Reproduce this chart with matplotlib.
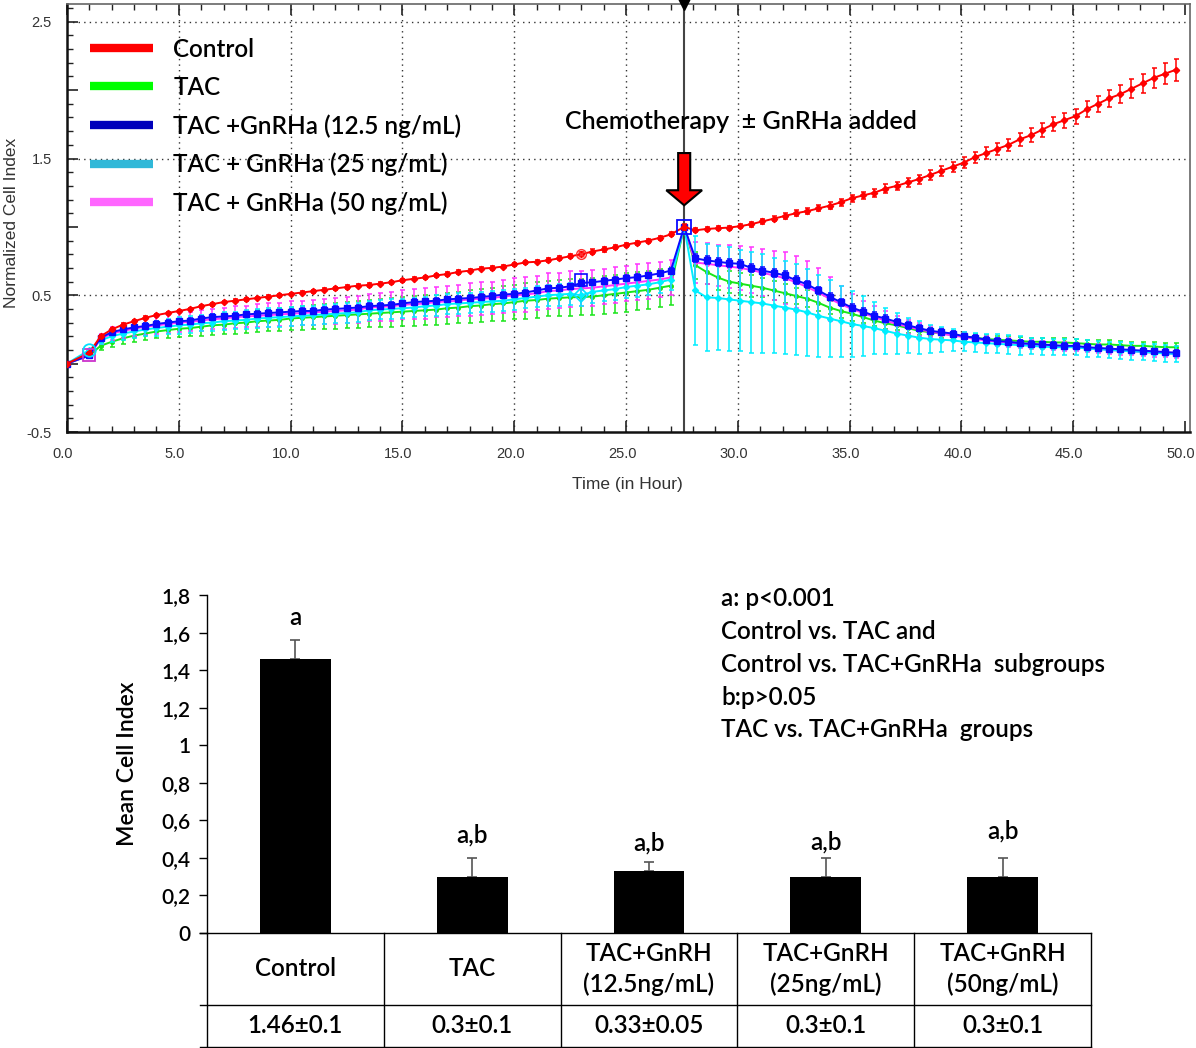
import matplotlib
matplotlib.use('Agg')
import matplotlib.pyplot as plt
import matplotlib.ticker as mticker
import matplotlib.transforms as mtransforms
from matplotlib.lines import Line2D
from matplotlib.patches import FancyArrow
import numpy as np

# ---- real-time cell analysis (top panel) ----
# sampling schedule in hours: start, first read, 30-min reads, treatment point, 30-min reads
hours = np.concatenate([[0.0, 1.0], np.arange(1.5, 27.01, 0.5), [27.6], np.arange(28.1, 49.61, 0.5)])
t_treat = 27.6

control = [0, 0.08,
           0.20, 0.25, 0.285, 0.31, 0.335, 0.355, 0.37, 0.385, 0.40, 0.42,
           0.435, 0.45, 0.46, 0.47, 0.48, 0.49, 0.50, 0.51, 0.52, 0.53,
           0.54, 0.55, 0.56, 0.57, 0.575, 0.585, 0.595, 0.61, 0.62, 0.63,
           0.645, 0.655, 0.67, 0.68, 0.695, 0.70, 0.71, 0.725, 0.74, 0.745,
           0.755, 0.77, 0.785, 0.80, 0.82, 0.835, 0.85, 0.87, 0.885, 0.90,
           0.92, 0.945,
           1.0,
           0.975, 0.985, 0.99, 0.995, 1.005, 1.02, 1.04, 1.06, 1.08, 1.10,
           1.115, 1.135, 1.155, 1.18, 1.21, 1.23, 1.25, 1.28, 1.30, 1.325,
           1.35, 1.38, 1.41, 1.44, 1.47, 1.51, 1.54, 1.57, 1.60, 1.64,
           1.67, 1.71, 1.75, 1.78, 1.81, 1.86, 1.90, 1.94, 1.97, 2.01,
           2.05, 2.09, 2.12, 2.15]
control_err = [0, 0.005,
               0.01, 0.01, 0.01, 0.01, 0.01, 0.01, 0.01, 0.01, 0.01, 0.01,
               0.01, 0.01, 0.01, 0.01, 0.01, 0.01, 0.01, 0.01, 0.01, 0.01,
               0.012, 0.012, 0.012, 0.012, 0.012, 0.012, 0.012, 0.012, 0.012, 0.012,
               0.012, 0.012, 0.012, 0.012, 0.012, 0.012, 0.012, 0.012, 0.012, 0.012,
               0.015, 0.015, 0.015, 0.015, 0.015, 0.015, 0.015, 0.015, 0.015, 0.015,
               0.015, 0.015,
               0.02,
               0.015, 0.015, 0.015, 0.015, 0.015, 0.018, 0.018, 0.02, 0.02, 0.02,
               0.022, 0.022, 0.025, 0.025, 0.025, 0.028, 0.028, 0.03, 0.03, 0.032,
               0.033, 0.035, 0.035, 0.037, 0.04, 0.04, 0.042, 0.045, 0.045, 0.048,
               0.05, 0.05, 0.052, 0.055, 0.055, 0.058, 0.06, 0.062, 0.065, 0.068,
               0.07, 0.072, 0.075, 0.08]

tac = [0, 0.06,
       0.13, 0.16, 0.185, 0.205, 0.22, 0.235, 0.245, 0.255, 0.26, 0.27,
       0.28, 0.285, 0.295, 0.30, 0.31, 0.315, 0.32, 0.33, 0.335, 0.34,
       0.345, 0.35, 0.355, 0.36, 0.365, 0.37, 0.375, 0.38, 0.385, 0.39,
       0.395, 0.405, 0.41, 0.42, 0.425, 0.435, 0.44, 0.45, 0.46, 0.465,
       0.475, 0.48, 0.485, 0.487, 0.49, 0.50, 0.51, 0.52, 0.53, 0.54,
       0.555, 0.57,
       1.0,
       0.72, 0.67, 0.63, 0.60, 0.585, 0.57, 0.555, 0.535, 0.515, 0.495,
       0.475, 0.445, 0.41, 0.385, 0.365, 0.34, 0.315, 0.295, 0.28, 0.26,
       0.24, 0.23, 0.22, 0.21, 0.20, 0.19, 0.18, 0.175, 0.17, 0.165,
       0.16, 0.16, 0.155, 0.155, 0.15, 0.145, 0.14, 0.14, 0.135, 0.13,
       0.13, 0.125, 0.12, 0.12]
tac_err = [0, 0.01,
           0.03, 0.035, 0.04, 0.045, 0.05, 0.05, 0.055, 0.06, 0.06, 0.065,
           0.07, 0.07, 0.075, 0.075, 0.08, 0.08, 0.085, 0.085, 0.09, 0.09,
           0.09, 0.095, 0.095, 0.1, 0.1, 0.1, 0.105, 0.105, 0.11, 0.11,
           0.11, 0.115, 0.115, 0.12, 0.12, 0.12, 0.125, 0.125, 0.13, 0.13,
           0.13, 0.13, 0.135, 0.135, 0.135, 0.14, 0.14, 0.14, 0.14, 0.14,
           0.14, 0.14,
           0.0,
           0.1, 0.09, 0.09, 0.08, 0.08, 0.08, 0.07, 0.07, 0.07, 0.06,
           0.06, 0.06, 0.05, 0.05, 0.05, 0.04, 0.04, 0.04, 0.035, 0.035,
           0.03, 0.03, 0.03, 0.03, 0.03, 0.03, 0.03, 0.03, 0.03, 0.03,
           0.03, 0.03, 0.03, 0.03, 0.03, 0.03, 0.03, 0.03, 0.03, 0.03,
           0.03, 0.03, 0.03, 0.03]

gnrh_12 = [0, 0.06,
           0.19, 0.23, 0.25, 0.265, 0.275, 0.29, 0.30, 0.31, 0.315, 0.33,
           0.34, 0.345, 0.35, 0.36, 0.365, 0.37, 0.375, 0.38, 0.385, 0.385,
           0.395, 0.40, 0.405, 0.41, 0.42, 0.425, 0.43, 0.44, 0.45, 0.455,
           0.46, 0.47, 0.475, 0.48, 0.487, 0.495, 0.505, 0.51, 0.52, 0.535,
           0.55, 0.555, 0.565, 0.59, 0.595, 0.605, 0.615, 0.625, 0.633, 0.645,
           0.66, 0.68,
           1.0,
           0.77, 0.755, 0.745, 0.735, 0.73, 0.70, 0.68, 0.665, 0.645, 0.61,
           0.58, 0.535, 0.49, 0.45, 0.41, 0.38, 0.35, 0.33, 0.305, 0.28,
           0.26, 0.24, 0.23, 0.22, 0.20, 0.19, 0.175, 0.165, 0.16, 0.15,
           0.145, 0.14, 0.135, 0.13, 0.13, 0.12, 0.115, 0.11, 0.105, 0.10,
           0.095, 0.09, 0.085, 0.08]
gnrh_12_err = [0, 0.01,
               0.02, 0.02, 0.02, 0.02, 0.02, 0.02, 0.02, 0.02, 0.02, 0.02,
               0.02, 0.02, 0.02, 0.02, 0.02, 0.02, 0.02, 0.02, 0.02, 0.02,
               0.02, 0.02, 0.02, 0.02, 0.02, 0.02, 0.02, 0.02, 0.02, 0.02,
               0.02, 0.02, 0.02, 0.02, 0.02, 0.02, 0.02, 0.02, 0.02, 0.02,
               0.02, 0.02, 0.02, 0.02, 0.02, 0.02, 0.02, 0.02, 0.02, 0.02,
               0.02, 0.02,
               0.0,
               0.03, 0.03, 0.03, 0.03, 0.03, 0.03, 0.03, 0.03, 0.03, 0.03,
               0.025, 0.025, 0.025, 0.025, 0.025, 0.025, 0.025, 0.025, 0.025, 0.025,
               0.02, 0.02, 0.02, 0.02, 0.02, 0.02, 0.02, 0.02, 0.02, 0.02,
               0.02, 0.02, 0.02, 0.02, 0.02, 0.02, 0.02, 0.02, 0.02, 0.02,
               0.02, 0.02, 0.02, 0.02]

gnrh_25 = [0, 0.10,
           0.17, 0.20, 0.22, 0.235, 0.25, 0.26, 0.27, 0.28, 0.285, 0.295,
           0.30, 0.31, 0.315, 0.32, 0.33, 0.335, 0.34, 0.345, 0.35, 0.355,
           0.36, 0.365, 0.37, 0.375, 0.39, 0.395, 0.40, 0.405, 0.41, 0.42,
           0.425, 0.435, 0.44, 0.445, 0.45, 0.455, 0.46, 0.47, 0.48, 0.49,
           0.50, 0.505, 0.51, 0.50, 0.525, 0.535, 0.545, 0.56, 0.57, 0.58,
           0.595, 0.615,
           1.0,
           0.535, 0.485, 0.48, 0.47, 0.46, 0.45, 0.44, 0.425, 0.41, 0.395,
           0.375, 0.35, 0.33, 0.31, 0.29, 0.275, 0.26, 0.24, 0.22, 0.205,
           0.19, 0.18, 0.175, 0.17, 0.16, 0.155, 0.15, 0.145, 0.14, 0.135,
           0.13, 0.125, 0.12, 0.12, 0.12, 0.11, 0.105, 0.10, 0.095, 0.09,
           0.085, 0.08, 0.075, 0.07]
gnrh_25_err = [0, 0.01,
               0.03, 0.04, 0.045, 0.05, 0.05, 0.055, 0.055, 0.06, 0.06, 0.06,
               0.065, 0.065, 0.065, 0.07, 0.07, 0.07, 0.07, 0.07, 0.07, 0.07,
               0.07, 0.07, 0.07, 0.07, 0.07, 0.07, 0.07, 0.07, 0.07, 0.07,
               0.075, 0.075, 0.075, 0.075, 0.075, 0.075, 0.075, 0.075, 0.075, 0.075,
               0.075, 0.08, 0.08, 0.08, 0.08, 0.08, 0.08, 0.08, 0.08, 0.08,
               0.08, 0.08,
               0.0,
               0.40, 0.39, 0.38, 0.38, 0.37, 0.37, 0.36, 0.35, 0.34, 0.33,
               0.32, 0.30, 0.28, 0.26, 0.24, 0.22, 0.19, 0.17, 0.15, 0.13,
               0.12, 0.10, 0.09, 0.08, 0.07, 0.07, 0.07, 0.07, 0.07, 0.07,
               0.06, 0.06, 0.06, 0.06, 0.06, 0.06, 0.06, 0.06, 0.06, 0.06,
               0.06, 0.06, 0.06, 0.06]

gnrh_50 = [0, 0.06,
           0.18, 0.22, 0.24, 0.255, 0.27, 0.28, 0.29, 0.30, 0.305, 0.315,
           0.325, 0.33, 0.34, 0.345, 0.35, 0.355, 0.36, 0.365, 0.37, 0.375,
           0.38, 0.385, 0.39, 0.395, 0.41, 0.415, 0.42, 0.43, 0.435, 0.44,
           0.45, 0.455, 0.46, 0.47, 0.475, 0.48, 0.49, 0.50, 0.505, 0.515,
           0.53, 0.535, 0.545, 0.55, 0.555, 0.565, 0.575, 0.585, 0.595, 0.605,
           0.615, 0.63,
           1.0,
           0.74, 0.73, 0.72, 0.71, 0.70, 0.685, 0.665, 0.645, 0.625, 0.595,
           0.56, 0.52, 0.475, 0.435, 0.40, 0.37, 0.34, 0.315, 0.29, 0.27,
           0.25, 0.235, 0.22, 0.205, 0.195, 0.18, 0.17, 0.16, 0.155, 0.145,
           0.14, 0.135, 0.13, 0.125, 0.12, 0.115, 0.11, 0.10, 0.095, 0.09,
           0.085, 0.08, 0.075, 0.07]
gnrh_50_err = [0, 0.01,
               0.04, 0.045, 0.05, 0.055, 0.06, 0.06, 0.065, 0.07, 0.07, 0.075,
               0.075, 0.08, 0.08, 0.08, 0.085, 0.085, 0.085, 0.09, 0.09, 0.09,
               0.09, 0.095, 0.095, 0.1, 0.1, 0.1, 0.105, 0.105, 0.11, 0.11,
               0.11, 0.115, 0.115, 0.12, 0.12, 0.12, 0.12, 0.125, 0.125, 0.125,
               0.13, 0.13, 0.13, 0.13, 0.13, 0.13, 0.13, 0.13, 0.13, 0.13,
               0.13, 0.13,
               0.0,
               0.15, 0.15, 0.15, 0.16, 0.16, 0.17, 0.17, 0.18, 0.19, 0.19,
               0.19, 0.18, 0.16, 0.13, 0.11, 0.09, 0.08, 0.07, 0.06, 0.05,
               0.045, 0.04, 0.04, 0.035, 0.035, 0.03, 0.03, 0.03, 0.03, 0.03,
               0.03, 0.03, 0.03, 0.03, 0.03, 0.03, 0.03, 0.03, 0.03, 0.03,
               0.03, 0.03, 0.03, 0.03]

series_names = ['Control', 'TAC', 'TAC +GnRHa (12.5 ng/mL)',
                'TAC + GnRHa (25 ng/mL)', 'TAC + GnRHa (50 ng/mL)']

# ---- mean cell index (bottom panel) ----
groups = ['Control', 'TAC', 'TAC+GnRH\n(12.5ng/mL)', 'TAC+GnRH\n(25ng/mL)', 'TAC+GnRH\n(50ng/mL)']
means = [1.46, 0.30, 0.33, 0.30, 0.30]
sds = [0.10, 0.10, 0.05, 0.10, 0.10]
value_labels = ['1.46±0.1', '0.3±0.1', '0.33±0.05', '0.3±0.1', '0.3±0.1']
sig_letters = ['a', 'a,b', 'a,b', 'a,b', 'a,b']
stats_note = ['a: p<0.001', 'Control vs. TAC and', 'Control vs. TAC+GnRHa  subgroups',
              'b:p>0.05', 'TAC vs. TAC+GnRHa  groups']

W, H = 1196, 1048
CAL = 'Lato'
CW = 'semibold'
ARI = 'Liberation Sans'


def fx(px):
    return px / W


def fy(py):
    return 1 - py / H


fig = plt.figure(figsize=(W / 100, H / 100), dpi=100)

# ================= top panel =================
ax1 = fig.add_axes([fx(67), fy(432), fx(1190) - fx(67), fy(4) - fy(432)])
ax1.set_xlim(0, 50.22)
ax1.set_ylim(-0.5, 2.63)

styles = [
    (control, control_err, '#ff0000', 'D', 3.2, 6),
    (tac, tac_err, '#19e619', 'o', 2.6, 2),
    (gnrh_12, gnrh_12_err, '#0a0aff', 's', 4.2, 5),
    (gnrh_25, gnrh_25_err, '#00eeff', 'D', 3.0, 4),
    (gnrh_50, gnrh_50_err, '#ff33ff', 'o', 2.6, 3),
]
for vals, errs, col, mk, ms, z in styles:
    ax1.errorbar(hours, vals, yerr=errs, color=col, lw=1.4, marker=mk, ms=ms,
                 elinewidth=1.1, capsize=1.8, capthick=1.1, zorder=z)

# hollow reference markers of the analyser software
i_first = 1
i_mid = int(np.argmin(np.abs(hours - 23.0)))
i_treat = int(np.argmin(np.abs(hours - t_treat)))
ax1.plot(hours[i_first], gnrh_50[i_first], 's', ms=9, mfc='none', mec='#cc33cc', mew=1.3, zorder=7)
ax1.plot(hours[i_first], gnrh_25[i_first], 'o', ms=9, mfc='none', mec='#00e0ff', mew=1.3, zorder=7)
ax1.plot(hours[i_mid], control[i_mid], 'o', ms=7, mfc='none', mec='#ff3030', mew=1.0, zorder=7)
ax1.plot(hours[i_mid], control[i_mid], 'x', ms=4, color='#ff3030', mew=1.0, zorder=7)
ax1.plot(hours[i_mid], gnrh_12[i_mid] + 0.02, 's', ms=9, mfc='none', mec='#0a0aff', mew=1.2, zorder=7)
ax1.plot(hours[i_mid], gnrh_25[i_mid], 'D', ms=7, mfc='none', mec='#00e0ff', mew=1.2, zorder=7)
ax1.plot(hours[i_treat], gnrh_12[i_treat], 's', ms=10, mfc='none', mec='#0a0aff', mew=1.3, zorder=8)

# treatment marker line
ax1.axvline(t_treat, color='#444444', lw=1.5, zorder=1)
ax1.plot([t_treat], [2.63], marker='v', color='black', ms=8, clip_on=False, zorder=9)

# grid
for gx in range(5, 50, 5):
    ax1.axvline(gx, color='#333333', lw=1.0, ls=(0, (1, 3)), zorder=0)
for gy in [0.5, 1.5, 2.5]:
    ax1.axhline(gy, color='#333333', lw=1.0, ls=(0, (1, 3)), zorder=0)

ax1.xaxis.set_major_locator(mticker.MultipleLocator(5))
ax1.xaxis.set_minor_locator(mticker.MultipleLocator(1))
ax1.xaxis.set_major_formatter(mticker.FormatStrFormatter('%.1f'))
ax1.yaxis.set_major_locator(mticker.FixedLocator([-0.5, 0.0, 0.5, 1.0, 1.5, 2.0, 2.5]))
ax1.yaxis.set_minor_locator(mticker.MultipleLocator(0.1))
ax1.yaxis.set_major_formatter(mticker.FuncFormatter(
    lambda v, p: ('%.1f' % v) if abs((v + 0.5) % 1.0) < 1e-6 else ''))
ax1.tick_params(which='both', direction='in', top=True, right=False, color='#222222')
ax1.tick_params(which='major', length=8, width=1.2)
ax1.tick_params(which='minor', length=4, width=1.0)
ax1.tick_params(axis='x', pad=11, labelsize=10.5, labelcolor='#333333')
ax1.tick_params(axis='y', pad=11, labelsize=10.5, labelcolor='#333333')
shift = mtransforms.ScaledTranslation(-4 / 100, 0, fig.dpi_scale_trans)
for lab in ax1.get_xticklabels():
    lab.set_fontfamily(ARI)
    lab.set_transform(lab.get_transform() + shift)
for lab in ax1.get_yticklabels():
    lab.set_fontfamily(ARI)
for s in ['left', 'bottom']:
    ax1.spines[s].set_linewidth(1.8)
    ax1.spines[s].set_color('#111111')
for s in ['top', 'right']:
    ax1.spines[s].set_linewidth(1.2)
    ax1.spines[s].set_color('#666666')

fig.text(fx(12), fy(223), 'Normalized Cell Index', rotation=90, ha='center', va='center',
         fontsize=12.5, family=ARI, color='#333333')
fig.text(fx(627), fy(484), 'Time (in Hour)', ha='center', va='center',
         fontsize=12.5, family=ARI, color='#333333')

legend_colors = ['#ff0000', '#00ff00', '#0000bb', '#30b8d8', '#ff66ff']
handles = [Line2D([], [], color=c, lw=6, solid_capstyle='butt') for c in legend_colors]
ax1.legend(handles, series_names, loc='upper left', bbox_to_anchor=(0.0205, 0.921),
           frameon=False, prop={'family': CAL, 'size': 17.5, 'weight': CW}, handlelength=2.6,
           handletextpad=0.82, labelspacing=0.62, borderaxespad=0, borderpad=0)

ax1.text(27.6 - (684 - 565) / 22.35, 2.5 - (121 - 22) / 136.4, 'Chemotherapy  \u00b1 GnRHa added',
         ha='left', va='center', fontsize=18, family=CAL, weight=CW, color='black', zorder=10)
ax1.add_patch(FancyArrow(t_treat, 1.54, 0, -0.382, width=0.54, head_width=1.6, head_length=0.11,
                         length_includes_head=True, fc='#ff0000', ec='black', lw=1.5, zorder=10))

# ================= bottom panel =================
ax2 = fig.add_axes([fx(207), fy(933), fx(1091) - fx(207), fy(595) - fy(933)])
ax2.set_xlim(-0.5, 4.5)
ax2.set_ylim(0, 1.8)
ax2.patch.set_alpha(0)
xpos = np.arange(len(groups))
ax2.bar(xpos, means, width=0.4, color='black', zorder=3)
ax2.errorbar(xpos, means, yerr=[np.zeros(len(sds)), sds], fmt='none', ecolor='#555555',
             elinewidth=1.2, capsize=3.6, capthick=1.2, zorder=2)
letter_offsets = [23, 23, 19, 16, 27]
for xi, m, s, lab, off in zip(xpos, means, sds, sig_letters, letter_offsets):
    ax2.annotate(lab, (xi, m + s), xytext=(0, off), textcoords='offset pixels',
                 ha='center', va='center', fontsize=17.5, family=CAL, weight=CW)

ax2.spines['top'].set_visible(False)
ax2.spines['right'].set_visible(False)
ax2.spines['bottom'].set_visible(False)
ax2.spines['left'].set_linewidth(1.0)
ax2.set_xticks([])
ax2.yaxis.set_major_locator(mticker.MultipleLocator(0.2))
ax2.yaxis.set_major_formatter(mticker.FuncFormatter(
    lambda v, p: ('%g' % round(v, 1)).replace('.', ',')))
ax2.tick_params(axis='y', direction='out', length=6, width=1.0, pad=6, labelsize=15)
for lab in ax2.get_yticklabels():
    lab.set_fontfamily(CAL)
    lab.set_fontweight(CW)

# table under the bars
row1, row2 = -0.383, -0.607
tbl = dict(color='black', lw=1.0, clip_on=False, zorder=4)
ax2.plot([-0.54, 4.5], [0, 0], **tbl)
ax2.plot([-0.54, 4.5], [row1, row1], **tbl)
ax2.plot([-0.54, 4.5], [row2, row2], **tbl)
for k in range(len(groups) + 1):
    ax2.plot([k - 0.5, k - 0.5], [0, row2], **tbl)
for xi, g, v in zip(xpos, groups, value_labels):
    ax2.text(xi, row1 / 2, g, ha='center', va='center', fontsize=17.5, family=CAL, weight=CW,
             linespacing=1.4, clip_on=False)
    ax2.text(xi, -0.495, v, ha='center', va='center', fontsize=17.5, family=CAL, weight=CW,
             clip_on=False)

fig.text(fx(127), fy(764), 'Mean Cell Index', rotation=90, ha='center', va='center',
         fontsize=16.5, family=CAL, weight=CW)
for k, line in enumerate(stats_note):
    fig.text(fx(721), fy(599 + 32.7 * k), line, ha='left', va='center', fontsize=17.5,
             family=CAL, weight=CW)

fig.savefig('out.png', dpi=100)
